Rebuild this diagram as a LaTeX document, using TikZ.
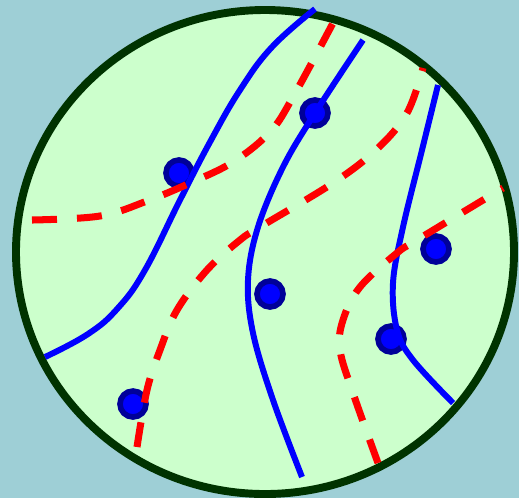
\documentclass[tikz,border=0pt]{standalone}
\definecolor{bgblue}{HTML}{9ECFD6}
\definecolor{discgreen}{HTML}{CCFFCC}
\definecolor{rimgreen}{HTML}{003300}
\definecolor{dotblue}{HTML}{000099}
\begin{document}
\begin{tikzpicture}[x=0.02cm,y=-0.02cm,
    wall/.style={blue,line width=3.4pt},
    cut/.style={red,line width=4pt,dash pattern=on 0.5cm off 0.4cm},
    site/.style={fill=blue,draw=dotblue,line width=3.2pt}]
    \fill[bgblue] (0,0) rectangle (519,498);
    \useasboundingbox (0,0) rectangle (519,498);
    \coordinate (o) at (265,252);
    \coordinate (p1) at (179,173);
    \coordinate (p2) at (315,113);
    \coordinate (p3) at (270,294);
    \coordinate (p4) at (436,249);
    \coordinate (p5) at (391,339);
    \coordinate (p6) at (133,404);
    \draw[draw=rimgreen,fill=discgreen,line width=4.5pt] (o) ellipse [x radius=249,y radius=242];
    % sites
    \foreach \p in {p1,p2,p3,p4,p5,p6}
        \draw[site] (\p) circle (13);
    % blue walls
    \draw[wall] plot[smooth,tension=0.7] coordinates {(45,357) (88,334) (118,308) (145,270) (180,200) (210,142) (240,90) (272,47) (315,9)};
    \draw[wall] plot[smooth,tension=0.6] coordinates {(363,40) (315,113) (283,167) (258,227) (248,280) (253,333) (273,400) (302,477)};
    \draw[wall] plot[smooth,tension=0.6] coordinates {(438,85) (422,150) (403,227) (393,283) (397,330) (413,360) (453,403)};
    % red dashed cuts
    \draw[cut] plot[smooth,tension=0.6] coordinates {(32,220) (100,216) (147,201) (190,183) (233,162) (270,132) (293,97) (333,23)};
    \draw[cut] plot[smooth,tension=0.6] coordinates {(137,447) (147,390) (160,350) (177,310) (207,270) (240,240) (260,227) (333,183) (377,149) (407,113) (423,68)};
    \draw[cut] plot[smooth,tension=0.6] coordinates {(378,463) (353,393) (340,350) (343,320) (360,287) (397,253) (417,240) (503,188)};
\end{tikzpicture}
\end{document}
